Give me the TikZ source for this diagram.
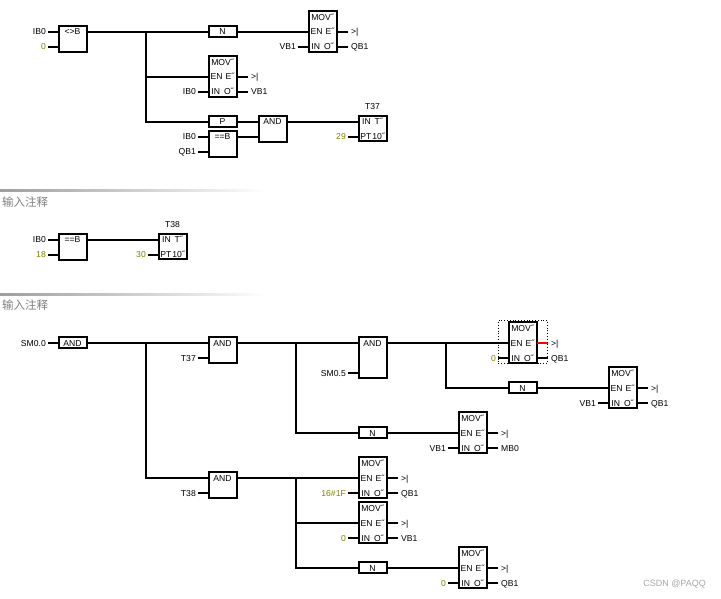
\documentclass[tikz,border=0pt]{standalone}
\usepackage{fontspec}
\setmainfont{Liberation Sans}
\newfontfamily\cjkf{Noto Sans CJK SC}
\definecolor{constc}{HTML}{808000}
\tikzset{x=1pt,y=-1pt,
  wire/.style={line width=2pt,line cap=butt},
  blk/.style={draw,line width=2pt,anchor=north west,inner sep=0pt,outer sep=0pt,minimum width=27.5pt},
  lab/.style={inner sep=0pt,text height=6pt,text depth=0pt,font=\fontsize{8.6}{9}\selectfont},
  lbl/.style={lab,anchor=east},
  lbr/.style={lab,anchor=west},
  cst/.style={lbl,text=constc},
  inn/.style={lab,anchor=center},
  cmt/.style={inner sep=0pt,anchor=west,text=black!50,font=\cjkf\fontsize{11.5}{12}\selectfont},
  sep/.style={left color=black!38,right color=white,draw=none},
}
% plain box: name, x, ytop, height, text, y of the main wire below the top
\newcommand{\bx}[6]{%
  \node[blk,minimum height=#4pt-0.8pt] (#1) at (#2+1,#3+0.4) {};
  \node[inn] (#1t) at (#2+14.5,#3+#6) {#5};
  \coordinate (#1p) at (#2,#3+#6);
  \coordinate (#1q) at (#2+29,#3+#6);}
% input stub: coordinate name, x of the block, y, label, label style
\newcommand{\pinl}[5]{%
  \coordinate (#1) at (#2,#3);
  \node[#5] (#1l) at (#2-12,#3) {#4};
  \draw[wire] ([xshift=2pt]#1l.east) -- (#1);}
% output stub: coordinate name, x of the block, y, label, colour
\newcommand{\pinr}[5]{%
  \coordinate (#1) at (#2+29,#3);
  \node[lbr] (#1l) at (#2+43,#3) {#4};
  \draw[wire,#5] (#1) -- ([xshift=-3pt]#1l.west);}
% MOV block: name, x, ytop, IN label, IN label style, OUT label
\newcommand{\mov}[6]{%
  \node[blk,minimum height=40.2pt] (#1) at (#2+1,#3+0.4) {};
  \node[inn] (#1t) at (#2+14.5,#3+6.5) {MOV˝};
  \node[inn] (#1e) at (#2+14.5,#3+21) {EN\hspace{3pt}E˝};
  \node[inn] (#1i) at (#2+14.5,#3+36) {IN\hspace{4pt}O˝};
  \coordinate (#1p) at (#2,#3+21);
  \pinl{#1in}{#2}{#3+36}{#4}{#5}
  \pinr{#1eno}{#2}{#3+21}{>|}{black}
  \pinr{#1out}{#2}{#3+36}{#6}{black}}
% timer block: name, x, ytop, title, PT label
\newcommand{\tmr}[5]{%
  \node[blk,minimum height=24.9pt] (#1) at (#2+1,#3+0.4) {};
  \node[inn] (#1e) at (#2+14.5,#3+6) {IN\hspace{4pt}T˝};
  \node[inn] (#1i) at (#2+14.5,#3+21) {PT\hspace{1pt}10˝};
  \node[inn] (#1n) at (#2+14.5,#3-9) {#4};
  \coordinate (#1p) at (#2,#3+6);
  \pinl{#1pt}{#2}{#3+21}{#5}{cst}}
\begin{document}
\begin{tikzpicture}
\useasboundingbox (0,0) rectangle (721,599);
% ---- rung 1
\bx{ane}{58}{26}{26}{<>B}{6}
\pinl{anea}{58}{32}{IB0}{lbl}
\pinl{aneb}{58}{47}{0}{cst}
\bx{nta}{208}{26}{11.5}{N}{6}
\mov{mva}{308}{11}{VB1}{lbl}{QB1}
\mov{mvb}{208}{56}{IB0}{lbl}{VB1}
\bx{pos}{208}{116}{11.5}{P}{6}
\bx{eqa}{208}{131}{26}{==B}{6}
\pinl{eqaa}{208}{137}{IB0}{lbl}
\pinl{eqab}{208}{152}{QB1}{lbl}
\bx{anda}{258}{116}{26}{AND}{6}
\tmr{tta}{358}{116}{T37}{29}
\coordinate (ja) at (146,32);
\coordinate (andain) at (258,137);
\draw[wire] (aneq) -- (ntap);
\draw[wire] (ntaq) -- (mvap);
\draw[wire] (ja) |- (mvbp);
\draw[wire] (ja) |- (posp);
\draw[wire] (posq) -- (andap);
\draw[wire] (eqaq) -- (andain);
\draw[wire] (andaq) -- (ttap);
% ---- separators and comments
\shade[sep] (0,190) rectangle (268,192);
\node[cmt] (cmta) at (2,202) {输入注释};
\shade[sep] (0,293) rectangle (268,295);
\node[cmt] (cmtb) at (2,305) {输入注释};
% ---- rung 2
\bx{eqb}{58}{234}{26}{==B}{6}
\pinl{eqba}{58}{240}{IB0}{lbl}
\pinl{eqbb}{58}{255}{18}{cst}
\tmr{ttb}{158}{234}{T38}{30}
\draw[wire] (eqbq) -- (ttbp);
% ---- rung 3
\bx{andb}{58}{337}{11.5}{AND}{6}
\pinl{andba}{58}{343}{SM0.0}{lbl}
\bx{andc}{208}{337}{26}{AND}{6}
\pinl{andca}{208}{358}{T37}{lbl}
\bx{andd}{358}{337}{41}{AND}{6}
\pinl{andda}{358}{373}{SM0.5}{lbl}
\mov{mvc}{508}{322}{0}{cst}{QB1}
\bx{ntb}{508}{382}{11.5}{N}{6}
\mov{mvd}{608}{367}{VB1}{lbl}{QB1}
\bx{ntc}{358}{427}{11.5}{N}{6}
\mov{mve}{458}{412}{VB1}{lbl}{MB0}
\bx{ande}{208}{472}{26}{AND}{6}
\pinl{andea}{208}{493}{T38}{lbl}
\mov{mvf}{358}{457}{16\#1F}{cst}{QB1}
\mov{mvg}{358}{502}{0}{cst}{VB1}
\bx{ntd}{358}{562}{11.5}{N}{6}
\mov{mvh}{458}{547}{0}{cst}{QB1}
\coordinate (jb) at (146,343);
\coordinate (jc) at (296,343);
\coordinate (jd) at (446,343);
\coordinate (je) at (296,478);
\draw[wire] (andbq) -- (andcp);
\draw[wire] (jb) |- (andep);
\draw[wire] (andcq) -- (anddp);
\draw[wire] (jc) |- (ntcp);
\draw[wire] (anddq) -- (mvcp);
\draw[wire] (jd) |- (ntbp);
\draw[wire] (ntbq) -- (mvdp);
\draw[wire] (ntcq) -- (mvep);
\draw[wire] (andeq) -- (mvfp);
\draw[wire] (je) |- (mvgp);
\draw[wire] (je) |- (ntdp);
\draw[wire] (ntdq) -- (mvhp);
% ---- selection and the red stub
\draw[wire,red] (mvceno) -- ([xshift=-3pt]mvcenol.west);
\node[draw,dotted,line width=0.8pt,minimum width=49pt,minimum height=43pt,inner sep=0pt,anchor=north west] (sel) at (498,320) {};
% ---- watermark
\node[inner sep=0pt,anchor=east,text=black!35,font=\fontsize{9}{9}\selectfont] (wm) at (706,584) {CSDN @PAQQ};
\end{tikzpicture}
\end{document}
